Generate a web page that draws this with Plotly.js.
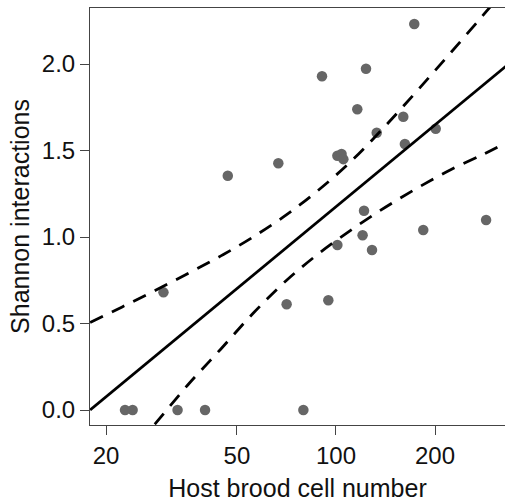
<!DOCTYPE html>
<html>
<head>
<meta charset="utf-8">
<script src="https://cdn.plot.ly/plotly-3.0.1.min.js"></script>
<style>html,body{margin:0;padding:0;overflow:hidden;background:#fff;}</style>
</head>
<body>
<div id="chart" style="width:505px;height:504px;"></div>
<script>
// Observed data: host brood cell number vs Shannon interactions
const cellNumber = [22.85, 24.1, 33.0, 40.0, 79.6,
  29.9, 70.8, 94.8, 46.9, 173, 90.7, 123.4, 116.1, 160.2, 133, 201, 162, 66.8,
  101, 104, 105.3, 121.7, 120.5, 128.7, 184.2, 286, 101];
const shannon = [0, 0, 0, 0, 0,
  0.68, 0.611, 0.634, 1.354, 2.231, 1.929, 1.973, 1.738, 1.695, 1.603, 1.626, 1.538, 1.426,
  1.47, 1.48, 1.45, 1.152, 1.01, 0.925, 1.04, 1.098, 0.954];

// Fitted regression line
const fitX = [17.9, 330];
const fitY = [0.0, 1.99];

// Upper confidence band
const upperX = [17.9, 22.4, 28.2, 35.5, 44.7, 56.2, 70.8, 89.1, 112.2, 141.3, 177.8, 223.9, 281.8, 331];
const upperY = [0.506, 0.596, 0.691, 0.789, 0.891, 1.002, 1.129, 1.276, 1.445, 1.642, 1.852, 2.068, 2.288, 2.444];

// Lower confidence band
const lowerX = [25.1, 28.2, 35.5, 44.7, 56.2, 70.8, 89.1, 112.2, 141.3, 177.8, 223.9, 281.8, 331];
const lowerY = [-0.185, -0.08, 0.146, 0.353, 0.562, 0.75, 0.908, 1.046, 1.172, 1.286, 1.39, 1.48, 1.548];

const xTicks = [20, 50, 100, 200];
const xTickText = ['20', '50', '100', '200'];
const yTicks = [0, 0.5, 1.0, 1.5, 2.0];
const yTickText = ['0.0', '0.5', '1.0', '1.5', '2.0'];

const FONT = 'Liberation Sans, Arial, sans-serif';

const traces = [
  {x: cellNumber, y: shannon, mode: 'markers', type: 'scatter',
   marker: {color: '#666666', size: 10.5}, hoverinfo: 'x+y'},
  {x: fitX, y: fitY, mode: 'lines', type: 'scatter',
   line: {color: '#000', width: 2.8}},
  {x: upperX, y: upperY, mode: 'lines', type: 'scatter',
   line: {color: '#000', width: 2.8, dash: '14px,10px', shape: 'spline'}},
  {x: lowerX, y: lowerY, mode: 'lines', type: 'scatter',
   line: {color: '#000', width: 2.8, dash: '14px,10px', shape: 'spline'}}
];

const layout = {
  width: 505, height: 504,
  margin: {l: 90, r: 0, t: 8, b: 79},
  paper_bgcolor: '#fff', plot_bgcolor: '#fff',
  showlegend: false,
  font: {family: FONT, color: '#000', size: 24},
  xaxis: {
    type: 'log',
    range: [1.2524, 2.5138],
    tickmode: 'array', tickvals: xTicks, ticktext: xTickText,
    ticks: 'outside', ticklen: 9, tickwidth: 1, tickcolor: '#444',
    showline: true, linecolor: '#444', linewidth: 1, mirror: true,
    showgrid: false, zeroline: false,
    tickfont: {family: FONT, size: 24, color: '#111'},
    title: {text: 'Host brood cell number', font: {family: FONT, size: 25, color: '#111'}, standoff: 11}
  },
  yaxis: {
    range: [-0.0867, 2.3237],
    tickmode: 'array', tickvals: yTicks, ticktext: yTickText,
    ticks: 'outside', ticklen: 9, tickwidth: 1, tickcolor: '#444',
    showline: true, linecolor: '#444', linewidth: 1,
    showgrid: false, zeroline: false,
    tickfont: {family: FONT, size: 24, color: '#111'},
    title: {text: 'Shannon interactions', font: {family: FONT, size: 25, color: '#111'}, standoff: 5}
  }
};

Plotly.newPlot('chart', traces, layout, {displayModeBar: false, staticPlot: true});
</script>
</body>
</html>
